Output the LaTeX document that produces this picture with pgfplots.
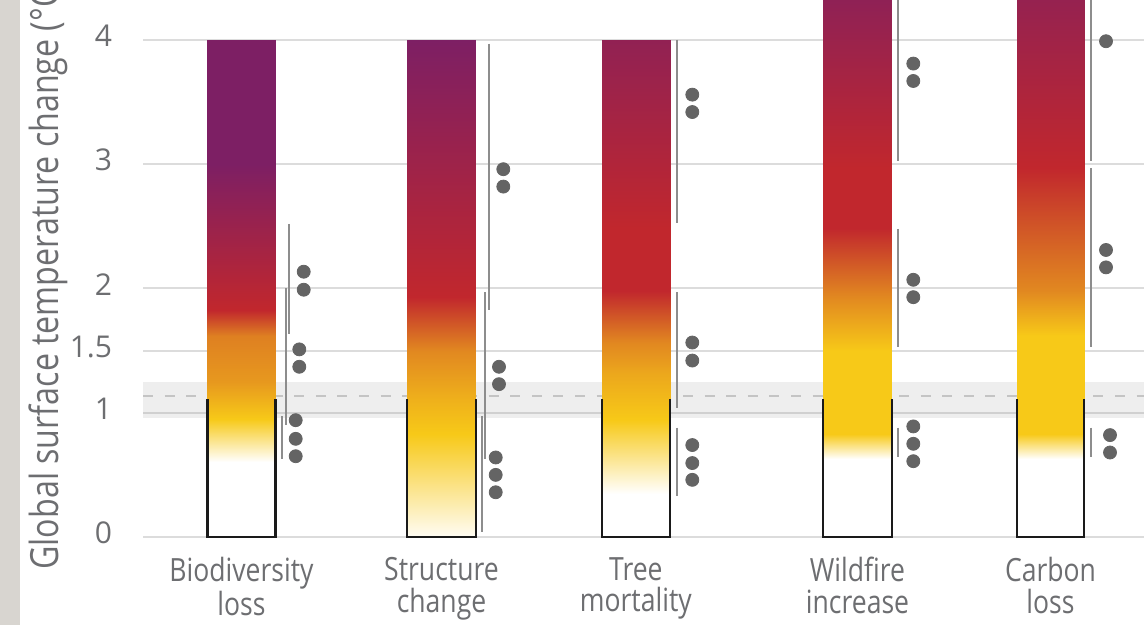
\documentclass[border=0pt]{standalone}
\usepackage{pgfplots}
\pgfplotsset{compat=1.18}
\usepackage{fontspec}
\setmainfont{Open Sans}[FakeStretch=0.83]
\newfontfamily\tickfont{Open Sans}
\definecolor{txt}{HTML}{6D6E71}
\definecolor{strip}{HTML}{D8D5D0}
\definecolor{gridc}{HTML}{DCDCDC}
\definecolor{gridd}{HTML}{D0D0D0}
\definecolor{bandc}{HTML}{EEEEEE}
\definecolor{dashc}{HTML}{C4C4C4}
\definecolor{linec}{HTML}{8D8D8D}
\definecolor{dotc}{HTML}{646464}
\definecolor{outl}{HTML}{1A1A1A}
\begin{document}
\begin{tikzpicture}[x=0.5pt,y=0.5pt]
\useasboundingbox (0,0) rectangle (1144,625);
\clip (0,0) rectangle (1144,625);
\fill[white] (0,0) rectangle (1144,625);
\fill[strip] (0,0) rectangle (20,625);
\node[rotate=90, anchor=base west, text=txt, font=\fontsize{19.4}{21}\selectfont, inner sep=0pt] at (58,55) {Global surface temperature change (°C)};
\begin{axis}[
  at={(71.5pt,44pt)}, anchor=south west,
  scale only axis, width=500.5pt, height=268.5pt,
  xmin=143, xmax=1144, ymin=0, ymax=4.3219,
  clip=false,
  axis line style={draw=none},
  major tick length=0pt,
  /pgf/number format/assume math mode=true,
  ytick={0,1,1.5,2,3,4}, yticklabels={0,1,1.5,2,3,4},
  ymajorgrids, grid style={color=gridc, line width=1pt},
  xtick={241.5,441.5,635.85,857.5,1050.5},
  xticklabels={Biodiversity\\loss, Structure\\change, Tree\\mortality, Wildfire\\increase, Carbon\\loss},
  xticklabel style={align=center, anchor=north, inner sep=0pt, yshift=-10pt, text=txt, font=\fontsize{16}{15.75}\selectfont},
  yticklabel style={anchor=east, inner sep=0pt, xshift=-15.25pt, yshift=2pt, text=txt, font=\tickfont\fontsize{15}{15}\selectfont},
  colormap={ember}{rgb255(0cm)=(255,255,255) rgb255(1cm)=(247,201,24) rgb255(2cm)=(193,39,45) rgb255(3cm)=(125,31,100)},
  point meta min=0, point meta max=3,
]
% band and reference lines
\addplot[draw=none, fill=bandc] coordinates {(143,0.96)(1144,0.96)(1144,1.25)(143,1.25)};
\addplot[gridd, line width=1pt] coordinates {(143,1)(1144,1)};
\addplot[dashc, line width=1pt, dash pattern=on 5pt off 5.8pt] coordinates {(143,1.137)(1144,1.137)};

% embers
\addplot[patch, patch type=rectangle, shader=interp, point meta=explicit] coordinates {
(207.5,0)[0] (275.5,0)[0] (275.5,0.6)[0] (207.5,0.6)[0]
(207.5,0.6)[0] (275.5,0.6)[0] (275.5,0.95)[1] (207.5,0.95)[1]
(207.5,0.95)[1] (275.5,0.95)[1] (275.5,1.25)[1.3] (207.5,1.25)[1.3]
(207.5,1.25)[1.3] (275.5,1.25)[1.3] (275.5,1.62)[1.45] (207.5,1.62)[1.45]
(207.5,1.62)[1.45] (275.5,1.62)[1.45] (275.5,1.83)[2] (207.5,1.83)[2]
(207.5,1.83)[2] (275.5,1.83)[2] (275.5,3.0)[3] (207.5,3.0)[3]
(207.5,3.0)[3] (275.5,3.0)[3] (275.5,4)[3] (207.5,4)[3]
};
\addplot[patch, patch type=rectangle, shader=interp, point meta=explicit] coordinates {
(407.3,0)[0.05] (475.7,0)[0.05] (475.7,0.83)[1] (407.3,0.83)[1]
(407.3,0.83)[1] (475.7,0.83)[1] (475.7,1.1)[1.15] (407.3,1.1)[1.15]
(407.3,1.1)[1.15] (475.7,1.1)[1.15] (475.7,1.5)[1.4] (407.3,1.5)[1.4]
(407.3,1.5)[1.4] (475.7,1.5)[1.4] (475.7,1.93)[2] (407.3,1.93)[2]
(407.3,1.93)[2] (475.7,1.93)[2] (475.7,4)[3] (407.3,4)[3]
};
\addplot[patch, patch type=rectangle, shader=interp, point meta=explicit] coordinates {
(601.7,0)[0] (670,0)[0] (670,0.35)[0] (601.7,0.35)[0]
(601.7,0.35)[0] (670,0.35)[0] (670,0.94)[1] (601.7,0.94)[1]
(601.7,0.94)[1] (670,0.94)[1] (670,1.3)[1.2] (601.7,1.3)[1.2]
(601.7,1.3)[1.2] (670,1.3)[1.2] (670,1.56)[1.4] (601.7,1.56)[1.4]
(601.7,1.56)[1.4] (670,1.56)[1.4] (670,1.98)[2] (601.7,1.98)[2]
(601.7,1.98)[2] (670,1.98)[2] (670,2.49)[2] (601.7,2.49)[2]
(601.7,2.49)[2] (670,2.49)[2] (670,4)[2.7] (601.7,4)[2.7]
};
\addplot[patch, patch type=rectangle, shader=interp, point meta=explicit] coordinates {
(823.3,0)[0] (891.7,0)[0] (891.7,0.63)[0] (823.3,0.63)[0]
(823.3,0.63)[0] (891.7,0.63)[0] (891.7,0.83)[1] (823.3,0.83)[1]
(823.3,0.83)[1] (891.7,0.83)[1] (891.7,1.5)[1] (823.3,1.5)[1]
(823.3,1.5)[1] (891.7,1.5)[1] (891.7,1.93)[1.4] (823.3,1.93)[1.4]
(823.3,1.93)[1.4] (891.7,1.93)[1.4] (891.7,2.49)[2] (823.3,2.49)[2]
(823.3,2.49)[2] (891.7,2.49)[2] (891.7,2.97)[2] (823.3,2.97)[2]
(823.3,2.97)[2] (891.7,2.97)[2] (891.7,4.35)[2.75] (823.3,4.35)[2.75]
};
\addplot[patch, patch type=rectangle, shader=interp, point meta=explicit] coordinates {
(1016.7,0)[0] (1084.3,0)[0] (1084.3,0.63)[0] (1016.7,0.63)[0]
(1016.7,0.63)[0] (1084.3,0.63)[0] (1084.3,0.83)[1] (1016.7,0.83)[1]
(1016.7,0.83)[1] (1084.3,0.83)[1] (1084.3,1.62)[1] (1016.7,1.62)[1]
(1016.7,1.62)[1] (1084.3,1.62)[1] (1084.3,1.98)[1.4] (1016.7,1.98)[1.4]
(1016.7,1.98)[1.4] (1084.3,1.98)[1.4] (1084.3,2.97)[2] (1016.7,2.97)[2]
(1016.7,2.97)[2] (1084.3,2.97)[2] (1084.3,4.35)[2.65] (1016.7,4.35)[2.65]
};

% outlines
\addplot[outl, line width=1.1pt] coordinates {(207.5,1.11)(207.5,0)(275.5,0)(275.5,1.11)};
\addplot[outl, line width=1.1pt] coordinates {(407.3,1.11)(407.3,0)(475.7,0)(475.7,1.11)};
\addplot[outl, line width=1.1pt] coordinates {(601.7,1.11)(601.7,0)(670,0)(670,1.11)};
\addplot[outl, line width=1.1pt] coordinates {(823.3,1.11)(823.3,0)(891.7,0)(891.7,1.11)};
\addplot[outl, line width=1.1pt] coordinates {(1016.7,1.11)(1016.7,0)(1084.3,0)(1084.3,1.11)};

% confidence lines
\addplot[linec, line width=1pt] coordinates {(289,2.52)(289,1.63)};
\addplot[linec, line width=1pt] coordinates {(285.7,2.0)(285.7,0.90)};
\addplot[linec, line width=1pt] coordinates {(282,0.97)(282,0.63)};
\addplot[linec, line width=1pt] coordinates {(488.7,3.97)(488.7,1.83)};
\addplot[linec, line width=1pt] coordinates {(485.3,1.97)(485.3,0.63)};
\addplot[linec, line width=1pt] coordinates {(481.7,0.975)(481.7,0.04)};
\addplot[linec, line width=1pt] coordinates {(676.7,4.0)(676.7,2.53)};
\addplot[linec, line width=1pt] coordinates {(676.7,1.97)(676.7,1.04)};
\addplot[linec, line width=1pt] coordinates {(676.7,0.88)(676.7,0.33)};
\addplot[linec, line width=1pt] coordinates {(898.3,4.4)(898.3,3.03)};
\addplot[linec, line width=1pt] coordinates {(898.3,2.48)(898.3,1.53)};
\addplot[linec, line width=1pt] coordinates {(898.3,0.88)(898.3,0.64)};
\addplot[linec, line width=1pt] coordinates {(1091,4.4)(1091,3.03)};
\addplot[linec, line width=1pt] coordinates {(1091,2.97)(1091,1.53)};
\addplot[linec, line width=1pt] coordinates {(1091,0.88)(1091,0.64)};

% dots
\addplot[only marks, mark=*, mark size=3.25pt, color=dotc] coordinates {
(303.7,2.135)(303.7,1.99)(299.3,1.51)(299.3,1.37)(295.7,0.94)(295.7,0.79)(295.7,0.65)
(503.3,2.96)(503.3,2.82)(499,1.37)(499,1.23)(495.7,0.64)(495.7,0.50)(495.7,0.36)
(692.3,3.56)(692.3,3.42)(692.3,1.565)(692.3,1.42)(692.3,0.74)(692.3,0.595)(692.3,0.46)
(913.3,3.81)(913.3,3.67)(913.3,2.07)(913.3,1.93)(913.3,0.89)(913.3,0.75)(913.3,0.61)
(1106,3.99)(1106,2.31)(1106,2.17)(1110,0.82)(1110,0.68)
};
\end{axis}
\end{tikzpicture}
\end{document}
